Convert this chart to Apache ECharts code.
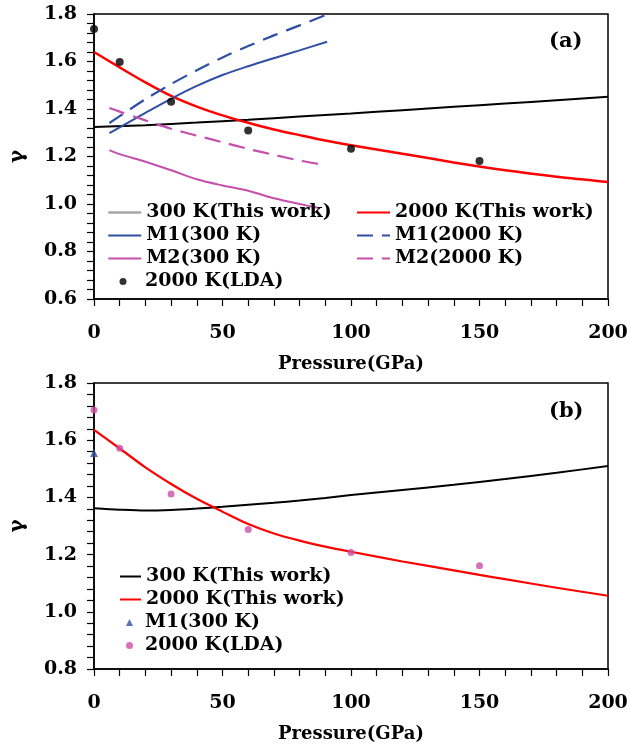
<!DOCTYPE html>
<html>
<head>
<meta charset="utf-8">
<script src="https://cdn.jsdelivr.net/npm/echarts@6/dist/echarts.min.js"></script>
<style>html,body{margin:0;padding:0;background:#fff}#c{width:631px;height:752px}</style>
</head>
<body>
<div id="c"></div>
<script>
// ---- Panel (a) data ----
var xTicks = [0, 50, 100, 150, 200];
var pA300 = [0, 20, 40, 60, 80, 100, 120, 140, 160, 180, 200];
var gA300 = [1.324, 1.332, 1.343, 1.355, 1.368, 1.381, 1.395, 1.409, 1.423, 1.437, 1.452];
var pA2000 = [0, 10, 20, 30, 40, 50, 60, 70, 80, 90, 100, 120, 140, 160, 180, 200];
var gA2000 = [1.64, 1.575, 1.512, 1.455, 1.41, 1.373, 1.342, 1.314, 1.29, 1.267, 1.247, 1.212, 1.175, 1.142, 1.115, 1.093];
var pM1_300 = [6, 10, 20, 30, 40, 50, 60, 70, 80, 90.7];
var gM1_300 = [1.298, 1.323, 1.384, 1.443, 1.497, 1.543, 1.58, 1.614, 1.647, 1.683];
var pM1_2000 = [6, 10, 20, 30, 40, 50, 60, 70, 80, 90];
var gM1_2000 = [1.341, 1.37, 1.441, 1.505, 1.563, 1.617, 1.665, 1.71, 1.752, 1.795];
var pM2_300 = [6, 10, 20, 30, 40, 50, 60, 65, 70, 80, 88];
var gM2_300 = [1.227, 1.21, 1.178, 1.142, 1.104, 1.078, 1.056, 1.04, 1.024, 1.0, 0.982];
var pM2_2000 = [6, 10, 20, 30, 40, 50, 60, 70, 80, 90];
var gM2_2000 = [1.404, 1.389, 1.352, 1.317, 1.288, 1.26, 1.232, 1.207, 1.183, 1.164];
var pLdaA = [0, 10, 30, 60, 100, 150];
var gLdaA = [1.737, 1.598, 1.431, 1.309, 1.233, 1.181];
// ---- Panel (b) data ----
var pB300 = [0, 10, 20, 30, 40, 50, 60, 70, 80, 90, 100, 120, 140, 160, 180, 200];
var gB300 = [1.362, 1.357, 1.354, 1.356, 1.361, 1.367, 1.374, 1.381, 1.389, 1.398, 1.408, 1.426, 1.444, 1.464, 1.486, 1.51];
var pB2000 = [0, 10, 20, 30, 40, 50, 60, 70, 80, 90, 100, 120, 140, 150, 160, 180, 200];
var gB2000 = [1.636, 1.571, 1.505, 1.447, 1.395, 1.35, 1.307, 1.274, 1.249, 1.228, 1.21, 1.176, 1.145, 1.129, 1.114, 1.084, 1.056];
var pM1B = [0];
var gM1B = [1.555];
var pLdaB = [0, 10, 30, 60, 100, 150];
var gLdaB = [1.706, 1.572, 1.412, 1.288, 1.207, 1.161];

function zip(xs, ys) { return xs.map(function (x, i) { return [x, ys[i]]; }); }

var FONT = 'DejaVu Serif';
var BLUE = '#2f4fa5', MAG = '#c64fab', RED = '#ff0000';
var boldTxt = function (size) { return { fontFamily: FONT, fontWeight: 'bold', fontSize: size, color: '#000' }; };

function xAxisFor(idx) {
  return {
    type: 'value', gridIndex: idx, min: 0, max: 200, interval: 50,
    name: 'Pressure(GPa)', nameLocation: 'middle', nameGap: 56,
    nameTextStyle: boldTxt(18),
    axisLine: { show: true, onZero: false, lineStyle: { color: '#000', width: 1.5 } },
    axisTick: { show: true, length: 7, lineStyle: { color: '#000', width: 1.2 } },
    minorTick: { show: true, splitNumber: 5, length: 7, lineStyle: { color: '#000', width: 1.2 } },
    splitLine: { show: false },
    axisLabel: Object.assign({ margin: 25, formatter: function (v) { return xTicks.indexOf(v) >= 0 ? String(v) : ''; } }, boldTxt(19))
  };
}
function yAxisFor(idx, mn) {
  return {
    type: 'value', gridIndex: idx, min: mn, max: 1.8, interval: 0.2,
    name: 'γ', nameLocation: 'middle', nameGap: 66, nameRotate: 90,
    nameTextStyle: boldTxt(20),
    axisLine: { show: true, onZero: false, lineStyle: { color: '#000', width: 1.5 } },
    axisTick: { show: true, length: 7, lineStyle: { color: '#000', width: 1.2 } },
    minorTick: { show: true, splitNumber: 5, length: 7, lineStyle: { color: '#000', width: 1.2 } },
    splitLine: { show: false },
    axisLabel: Object.assign({ margin: 17, formatter: function (v) { return v.toFixed(1); } }, boldTxt(19))
  };
}
function line(name, xi, xs, ys, color, width, dashed) {
  return {
    name: name, type: 'line', xAxisIndex: xi, yAxisIndex: xi, data: zip(xs, ys),
    symbol: 'none', smooth: 0.3, z: 3,
    lineStyle: { color: color, width: width, type: dashed ? [16, 9] : 'solid' },
    itemStyle: { color: color }
  };
}
function scatter(name, xi, xs, ys, color, sym, size) {
  return {
    name: name, type: 'scatter', xAxisIndex: xi, yAxisIndex: xi, data: zip(xs, ys),
    symbol: sym, symbolSize: size, z: 4, itemStyle: { color: color }
  };
}
var strip = function (n) { return n.replace(/^b:/, ''); };
function legend(extra, padLeft) {
  return Object.assign({
    orient: 'vertical', itemGap: 0, padding: 0, selectedMode: false, formatter: strip,
    textStyle: Object.assign({ lineHeight: 23, padding: [0, 0, 0, padLeft || 0] }, boldTxt(19))
  }, extra);
}
var hideSym = { opacity: 0 };

var option = {
  backgroundColor: '#fff',
  animation: false,
  grid: [
    { left: 90, right: 23, top: 14, height: 285, show: true, borderColor: '#000', borderWidth: 1.5, backgroundColor: 'transparent' },
    { left: 90, right: 23, top: 383, height: 286, show: true, borderColor: '#000', borderWidth: 1.5, backgroundColor: 'transparent' }
  ],
  xAxis: [xAxisFor(0), xAxisFor(1)],
  yAxis: [yAxisFor(0, 0.6), yAxisFor(1, 0.8)],
  legend: [
    legend({ left: 107, top: 201, itemWidth: 33, itemHeight: 14, itemStyle: hideSym,
      data: [{ name: '300 K(This work)', lineStyle: { color: '#a6a6a6', width: 2.5 } }, 'M1(300 K)', 'M2(300 K)'] }),
    legend({ left: 119.5, top: 270, itemWidth: 7, itemHeight: 7,
      data: [{ name: '2000 K(LDA)', icon: 'circle' }] }, 13.5),
    legend({ left: 356, top: 201, itemWidth: 33, itemHeight: 14, itemStyle: hideSym,
      data: ['2000 K(This work)', 'M1(2000 K)', 'M2(2000 K)'] }),
    legend({ left: 119, top: 565, itemWidth: 21, itemHeight: 14, itemStyle: hideSym,
      data: ['b:300 K(This work)', 'b:2000 K(This work)'] }),
    legend({ left: 126, top: 611, itemWidth: 7, itemHeight: 7,
      data: [{ name: 'b:M1(300 K)', icon: 'triangle' }, { name: 'b:2000 K(LDA)', icon: 'circle' }] }, 7)
  ],
  graphic: [
    { type: 'text', left: 549, top: 31, style: { text: '(a)', font: 'bold 21px "DejaVu Serif"', fill: '#000' } },
    { type: 'text', left: 549, top: 401, style: { text: '(b)', font: 'bold 21px "DejaVu Serif"', fill: '#000' } }
  ],
  series: [
    line('300 K(This work)', 0, pA300, gA300, '#000', 2, false),
    line('2000 K(This work)', 0, pA2000, gA2000, RED, 2.5, false),
    line('M1(300 K)', 0, pM1_300, gM1_300, BLUE, 2, false),
    line('M1(2000 K)', 0, pM1_2000, gM1_2000, BLUE, 2.2, true),
    line('M2(300 K)', 0, pM2_300, gM2_300, MAG, 2, false),
    line('M2(2000 K)', 0, pM2_2000, gM2_2000, MAG, 2.2, true),
    scatter('2000 K(LDA)', 0, pLdaA, gLdaA, '#000', 'circle', 8),
    line('b:300 K(This work)', 1, pB300, gB300, '#000', 2, false),
    line('b:2000 K(This work)', 1, pB2000, gB2000, RED, 2.2, false),
    scatter('b:M1(300 K)', 1, pM1B, gM1B, BLUE, 'triangle', 8),
    scatter('b:2000 K(LDA)', 1, pLdaB, gLdaB, '#c94fa9', 'circle', 7)
  ]
};
var chart = echarts.init(document.getElementById('c'), null, { renderer: 'canvas' });
chart.setOption(option);
</script>
</body>
</html>
